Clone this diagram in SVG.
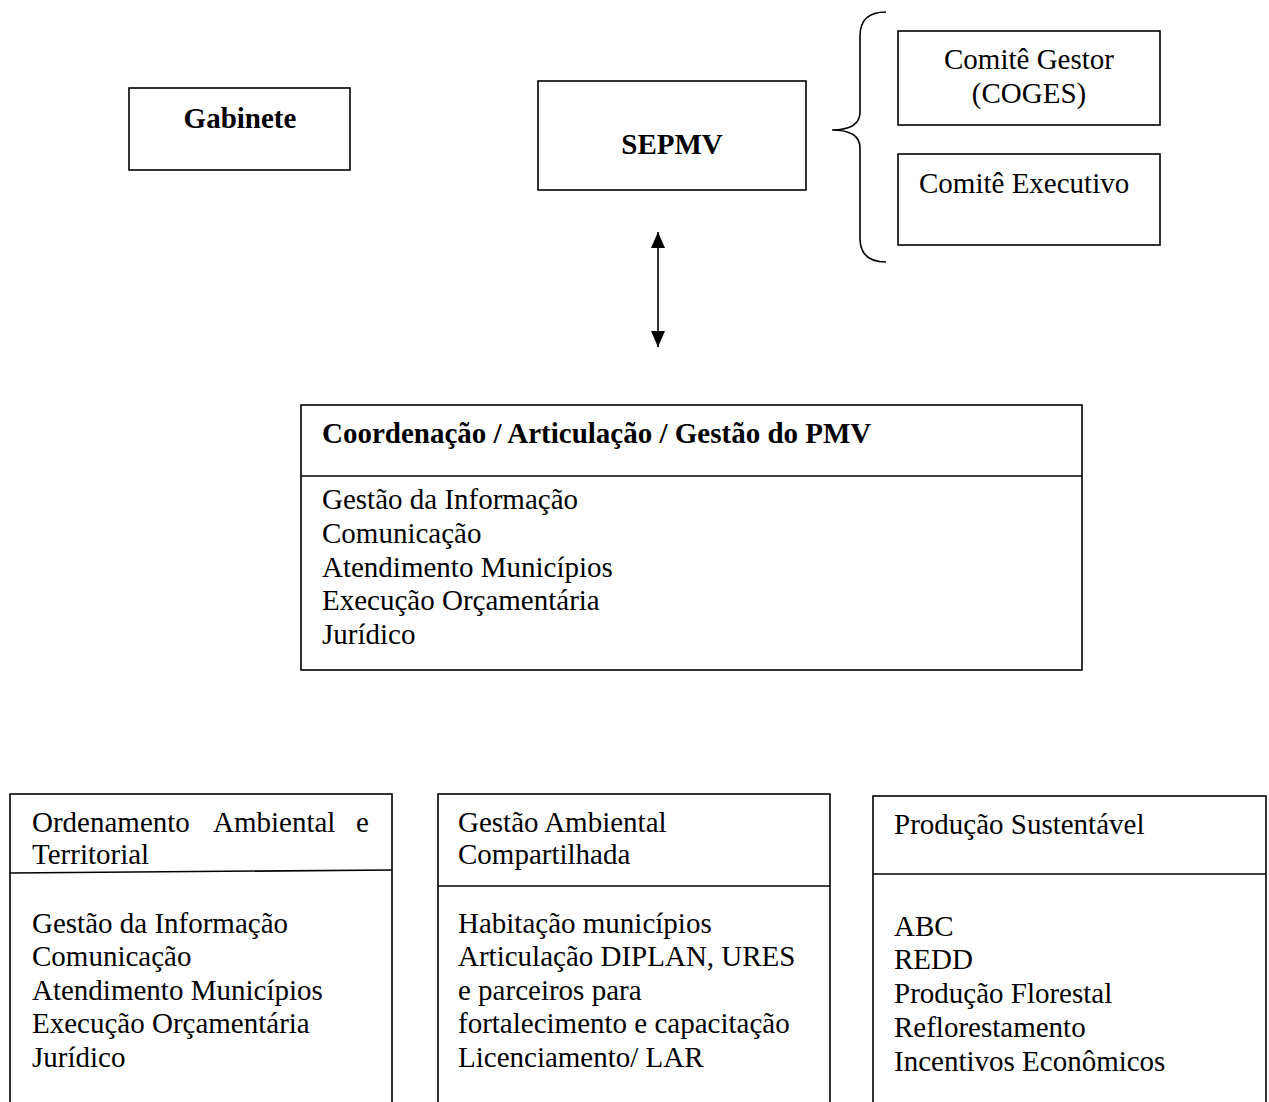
<svg xmlns="http://www.w3.org/2000/svg" width="1269" height="1102" viewBox="0 0 1269 1102">
<style>
.box{fill:#fff;stroke:#000;stroke-width:1.6}
.ln{stroke:#000;stroke-width:1.6;fill:none}
text{font-family:"Liberation Serif","Times New Roman",serif;font-size:29px;fill:#000}
.b{font-weight:bold}
.c{text-anchor:middle}
</style>
<defs>
<marker id="ah" viewBox="0 0 16 14" refX="16" refY="7" markerWidth="16" markerHeight="14" markerUnits="userSpaceOnUse" orient="auto-start-reverse">
<path d="M0,0 L16,7 L0,14 z" fill="#000"/>
</marker>
</defs>
<rect width="1269" height="1102" fill="#fff"/>
<g id="gabinete">
<rect class="box" x="129" y="88" width="221" height="82"/>
<text class="b c" x="240" y="128">Gabinete</text>
</g>
<g id="sepmv">
<rect class="box" x="538" y="81" width="268" height="109"/>
<text class="b c" x="672" y="154">SEPMV</text>
</g>
<g id="coges">
<rect class="box" x="898" y="31" width="262" height="94"/>
<text class="c" x="1029" y="69">Comitê Gestor</text>
<text class="c" x="1029" y="103">(COGES)</text>
</g>
<g id="executivo">
<rect class="box" x="898" y="154" width="262" height="91"/>
<text x="919" y="193">Comitê Executivo</text>
</g>
<g id="coordenacao">
<rect class="box" x="301" y="405" width="781" height="265"/>
<line class="ln" x1="301" y1="476" x2="1082" y2="476"/>
<text class="b" x="322" y="443">Coordenação / Articulação / Gestão do PMV</text>
<text x="322" y="509">Gestão da Informação</text>
<text x="322" y="543">Comunicação</text>
<text x="322" y="577">Atendimento Municípios</text>
<text x="322" y="610">Execução Orçamentária</text>
<text x="322" y="644">Jurídico</text>
</g>
<g id="ordenamento">
<rect class="box" x="10" y="794" width="382" height="320"/>
<line class="ln" x1="10" y1="873" x2="392" y2="870"/>
<text y="832"><tspan x="32">Ordenamento</tspan><tspan x="213">Ambiental</tspan><tspan x="356">e</tspan></text>
<text x="32" y="864">Territorial</text>
<text x="32" y="933">Gestão da Informação</text>
<text x="32" y="966">Comunicação</text>
<text x="32" y="1000">Atendimento Municípios</text>
<text x="32" y="1033">Execução Orçamentária</text>
<text x="32" y="1067">Jurídico</text>
</g>
<g id="gestao-ambiental">
<rect class="box" x="438" y="794" width="392" height="320"/>
<line class="ln" x1="438" y1="886" x2="830" y2="886"/>
<text x="458" y="832">Gestão Ambiental</text>
<text x="458" y="864">Compartilhada</text>
<text x="458" y="933">Habitação municípios</text>
<text x="458" y="966">Articulação DIPLAN, URES</text>
<text x="458" y="1000">e parceiros para</text>
<text x="458" y="1033">fortalecimento e capacitação</text>
<text x="458" y="1067">Licenciamento/ LAR</text>
</g>
<g id="producao">
<rect class="box" x="873" y="796" width="393" height="320"/>
<line class="ln" x1="873" y1="874" x2="1266" y2="874"/>
<text x="894" y="834">Produção Sustentável</text>
<text x="894" y="936">ABC</text>
<text x="894" y="969">REDD</text>
<text x="894" y="1003">Produção Florestal</text>
<text x="894" y="1037">Reflorestamento</text>
<text x="894" y="1071">Incentivos Econômicos</text>
</g>
<g id="connectors">
<line class="ln" x1="658" y1="232" x2="658" y2="347" stroke-width="2" marker-start="url(#ah)" marker-end="url(#ah)"/>
<path class="ln" d="M886 12 C868 12 860 20 860 36 L860 112 C860 124 850 130 832 130 C850 130 860 136 860 148 L860 238 C860 254 868 262 886 262"/>
</g>
</svg>
